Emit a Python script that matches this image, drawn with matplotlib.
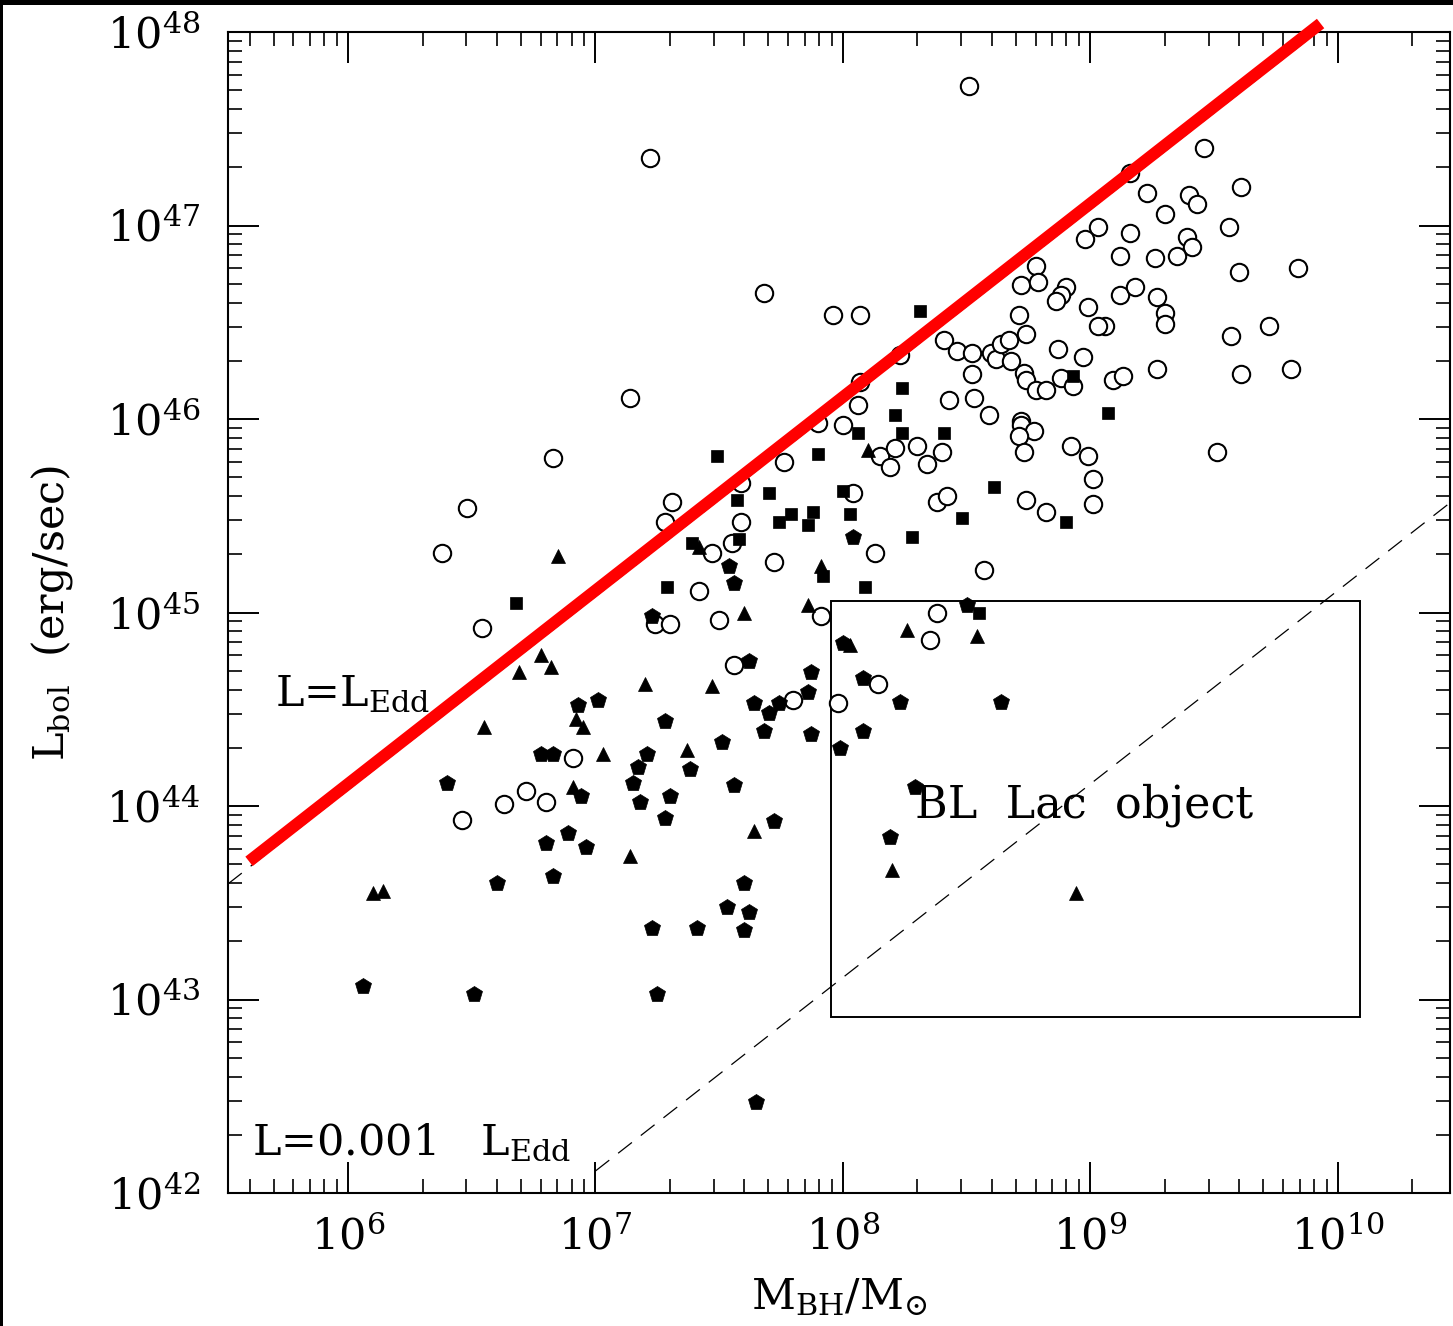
import matplotlib
matplotlib.use("Agg")
import matplotlib.pyplot as plt
import numpy as np
from matplotlib.patches import Rectangle
from matplotlib.ticker import LogLocator, NullFormatter, FixedLocator

plt.rcParams["font.family"] = ["DejaVu Serif"]
plt.rcParams["mathtext.fontset"] = "dejavuserif"

# log10(M_BH / M_sun), log10(L_bol / erg s^-1)
circle_logM = [8.51, 7.22, 9.46, 9.16, 9.23, 9.40, 9.43, 9.30, 9.61, 9.56,
               9.16, 9.03, 8.98, 9.39, 9.41, 9.12, 9.26, 9.35, 9.60, 9.84,
               8.78, 8.72, 8.79, 8.90, 8.88, 8.86, 8.99, 9.12, 9.18, 9.27,
               9.30, 9.30, 9.06, 9.03, 8.71, 8.74, 9.72, 9.57, 7.68, 7.96,
               8.07, 8.41, 8.46, 8.52, 8.60, 8.62, 8.64, 8.67, 8.68, 8.23,
               8.52, 8.07, 8.43, 8.53, 8.59, 8.06, 7.90, 8.00, 8.15, 8.19,
               8.21, 8.30, 8.34, 8.40, 7.76, 7.59, 7.59, 7.55, 7.47, 8.04,
               8.38, 8.42, 8.13, 7.72, 8.57, 7.42, 8.87, 8.97, 8.73, 8.74,
               8.78, 8.82, 8.88, 8.93, 9.09, 9.13, 9.27, 9.61, 9.81, 8.72,
               8.72, 8.77, 8.71, 8.73, 8.92, 8.99, 9.51, 9.01, 8.74, 8.82,
               9.01, 6.83, 6.48, 6.38, 6.54, 7.14, 7.31, 7.28, 7.24, 7.30,
               7.50, 7.91, 7.56, 7.80, 7.98, 8.14, 8.38, 8.35, 6.91, 6.72,
               6.63, 6.80, 6.46]
circle_logL = [47.72, 47.35, 47.40, 47.27, 47.17, 47.16, 47.11, 47.06, 47.20, 46.99,
               46.96, 46.99, 46.93, 46.94, 46.89, 46.84, 46.83, 46.84, 46.76, 46.78,
               46.79, 46.69, 46.71, 46.68, 46.64, 46.61, 46.58, 46.64, 46.68, 46.63,
               46.55, 46.49, 46.48, 46.48, 46.54, 46.44, 46.48, 46.43, 46.65, 46.54,
               46.54, 46.41, 46.35, 46.34, 46.34, 46.31, 46.39, 46.41, 46.30, 46.33,
               46.23, 46.19, 46.10, 46.11, 46.02, 46.07, 45.98, 45.97, 45.81, 45.75,
               45.85, 45.86, 45.77, 45.83, 45.78, 45.67, 45.47, 45.36, 45.31, 45.62,
               45.57, 45.60, 45.31, 45.26, 45.22, 45.11, 46.36, 46.32, 46.24, 46.20,
               46.15, 46.15, 46.21, 46.17, 46.20, 46.22, 46.26, 46.23, 46.26, 45.99,
               45.97, 45.94, 45.91, 45.83, 45.86, 45.81, 45.83, 45.69, 45.58, 45.52,
               45.56, 45.80, 45.54, 45.31, 44.92, 46.11, 45.57, 45.47, 44.94, 44.94,
               44.96, 44.98, 44.73, 44.55, 44.53, 44.63, 45.00, 44.86, 44.25, 44.08,
               44.01, 44.02, 43.93]

square_logM = [6.68, 7.29, 7.39, 7.49, 7.57, 7.58, 7.70, 7.74, 7.79, 7.86,
               7.88, 7.90, 7.92, 8.00, 8.03, 8.06, 8.09, 8.21, 8.24, 8.24,
               8.28, 8.31, 8.41, 8.48, 8.55, 8.61, 8.90, 8.93, 9.07]
square_logL = [45.05, 45.13, 45.36, 45.81, 45.58, 45.38, 45.62, 45.47, 45.51, 45.45,
               45.52, 45.82, 45.19, 45.63, 45.51, 45.93, 45.13, 46.02, 46.16, 45.93,
               45.39, 46.56, 45.93, 45.49, 45.00, 45.65, 45.47, 46.22, 46.03]

triangle_logM = [6.85, 6.78, 6.69, 6.82, 6.55, 6.92, 6.95, 7.03, 6.91, 7.14,
                 7.20, 6.10, 6.14, 7.42, 7.47, 7.60, 7.37, 7.64, 7.86, 7.91,
                 8.03, 8.10, 8.20, 8.26, 8.54, 8.94]
triangle_logL = [45.29, 44.78, 44.69, 44.72, 44.41, 44.45, 44.41, 44.27, 44.10, 43.74,
                 44.63, 43.55, 43.56, 45.34, 44.62, 45.00, 44.29, 43.87, 45.04, 45.24,
                 44.83, 45.84, 43.67, 44.91, 44.88, 43.55]

pentagon_logM = [6.06, 6.51, 6.40, 6.60, 6.78, 6.83, 6.83, 6.80, 6.89, 6.96,
                 6.93, 7.01, 6.94, 7.15, 7.17, 7.18, 7.21, 7.23, 7.23, 7.25,
                 7.28, 7.38, 7.30, 7.28, 7.41, 7.53, 7.62, 7.60, 7.60, 7.65,
                 7.72, 7.51, 7.56, 7.62, 7.64, 7.74, 7.70, 7.68, 7.87, 7.86,
                 7.87, 7.54, 7.56, 8.04, 8.00, 8.08, 8.23, 8.08, 7.99, 8.29,
                 8.19, 8.50, 8.64]
pentagon_logL = [43.07, 43.03, 44.12, 43.60, 44.27, 44.27, 43.64, 43.81, 43.86, 43.79,
                 44.52, 44.55, 44.05, 44.12, 44.20, 44.02, 44.27, 44.98, 43.37, 43.03,
                 44.44, 44.19, 44.05, 43.94, 43.37, 43.48, 43.45, 43.36, 43.60, 42.47,
                 43.92, 44.33, 44.11, 44.75, 44.53, 44.53, 44.48, 44.39, 44.37, 44.59,
                 44.69, 45.24, 45.15, 45.39, 44.84, 44.66, 44.54, 44.39, 44.30, 44.10,
                 43.84, 45.04, 44.54]

# Eddington relation and the BL Lac box
L_EDD_PER_MSUN = 1.3e38
edd_red_logM = [5.60, 9.93]
edd_dash_logM = [5.515, 9.90]
low_dash_logM = [7.0, 10.46]
low_fraction = 0.001
box_logM = [7.95, 10.09]
box_logL = [42.91, 45.06]

x_limits = [10 ** 5.515, 10 ** 10.453]
y_limits = [1e42, 1e48]
x_tick_exp = [6, 7, 8, 9, 10]
y_tick_exp = [42, 43, 44, 45, 46, 47, 48]


def log_to_lin(vals):
    return 10.0 ** np.asarray(vals)


W, H = 1453, 1326
fig = plt.figure(figsize=(W / 100, H / 100), dpi=100)
fig.patch.set_facecolor("white")
ax = fig.add_axes([228 / W, 1 - 1193 / H, (1450 - 228) / W, (1193 - 32) / H])

ax.set_xscale("log")
ax.set_yscale("log")
ax.set_xlim(x_limits)
ax.set_ylim(y_limits)

# points
ax.plot(log_to_lin(circle_logM), log_to_lin(circle_logL), "o", ms=12.5,
        mfc="white", mec="black", mew=1.5, ls="none", zorder=3)
ax.plot(log_to_lin(square_logM), log_to_lin(square_logL), "s", ms=8.5,
        mfc="black", mec="black", mew=0.5, ls="none", zorder=4)
ax.plot(log_to_lin(triangle_logM), log_to_lin(triangle_logL), "^", ms=9.5,
        mfc="black", mec="black", mew=0.5, ls="none", zorder=4)
ax.plot(log_to_lin(pentagon_logM), log_to_lin(pentagon_logL), "p", ms=12,
        mfc="black", mec="black", mew=0.5, ls="none", zorder=4)

# L = L_Edd (dashed, peeks out under the red one)
m = log_to_lin(edd_dash_logM)
ax.plot(m, 0.93 * L_EDD_PER_MSUN * m, color="black", lw=0.9, dashes=(14, 9), zorder=2)
m = log_to_lin(edd_red_logM)
ax.plot(m, L_EDD_PER_MSUN * m, color="#ff0000", lw=8.6, solid_capstyle="butt",
        clip_on=False, zorder=6)

# L = 0.001 L_Edd
m = log_to_lin(low_dash_logM)
ax.plot(m, low_fraction * L_EDD_PER_MSUN * m, color="black", lw=0.9,
        dashes=(14, 9), zorder=2)

# BL Lac box
bx = log_to_lin(box_logM)
by = log_to_lin(box_logL)
ax.add_patch(Rectangle((bx[0], by[0]), bx[1] - bx[0], by[1] - by[0],
                       fill=False, ec="black", lw=1.4, zorder=2))

fs = 31
ax.text(0.0385, 0.420, r"L=L$_{\mathrm{Edd}}$", transform=ax.transAxes,
        fontsize=fs, ha="left", va="baseline", zorder=7)
ax.text(0.0196, 0.033, r"L=0.001   L$_{\mathrm{Edd}}$", transform=ax.transAxes,
        fontsize=fs, ha="left", va="baseline", zorder=7)
ax.text(0.562, 0.323, "BL  Lac  object", transform=ax.transAxes,
        fontsize=32, ha="left", va="baseline", zorder=7)

# ticks
ax.xaxis.set_major_locator(FixedLocator(log_to_lin(x_tick_exp)))
ax.yaxis.set_major_locator(FixedLocator(log_to_lin(y_tick_exp)))
ax.set_xticklabels([r"$10^{%d}$" % e for e in x_tick_exp])
ax.set_yticklabels([r"$10^{%d}$" % e for e in y_tick_exp])
ax.xaxis.set_minor_locator(LogLocator(base=10, subs=np.arange(2, 10), numticks=30))
ax.yaxis.set_minor_locator(LogLocator(base=10, subs=np.arange(2, 10), numticks=30))
ax.xaxis.set_minor_formatter(NullFormatter())
ax.yaxis.set_minor_formatter(NullFormatter())
ax.tick_params(which="both", direction="in", top=True, right=True, color="black")
ax.tick_params(which="major", length=22, width=1.4, labelsize=fs)
ax.tick_params(which="minor", length=10, width=1.2)
ax.tick_params(axis="y", which="major", pad=20)
ax.tick_params(axis="x", which="major", pad=17)
for s in ax.spines.values():
    s.set_linewidth(1.5)

ax.set_xlabel(r"M$_{\mathrm{BH}}$/M$_{\odot}$", fontsize=fs)
ax.set_ylabel(r"L$_{\mathrm{bol}}$  (erg/sec)", fontsize=fs)
ax.xaxis.set_label_coords(0.5, -0.072)
ax.yaxis.set_label_coords(-0.125, 0.5)

# black frame strips at the top and left edge of the picture
fig.patches.append(Rectangle((0, 1 - 5 / H), 1, 5 / H, transform=fig.transFigure,
                             fc="black", ec="none", zorder=10))
fig.patches.append(Rectangle((0, 0), 3 / W, 1, transform=fig.transFigure,
                             fc="black", ec="none", zorder=10))

fig.savefig("out.png", dpi=100)
plt.close(fig)
